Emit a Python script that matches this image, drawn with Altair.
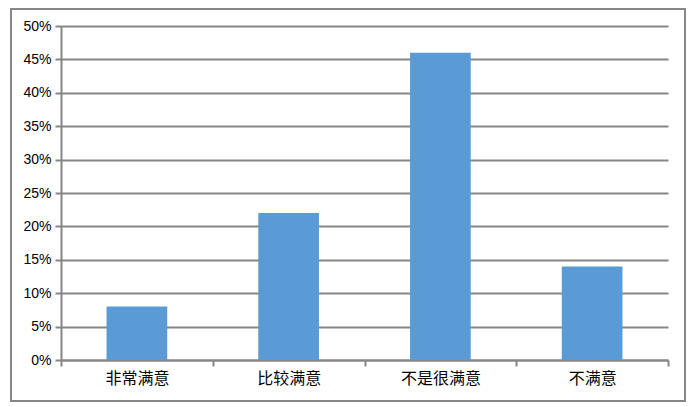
import altair as alt
import pandas as pd

categories = ["非常满意", "比较满意", "不是很满意", "不满意"]
values = [0.08, 0.22, 0.46, 0.14]
y_ticks = [0, 0.05, 0.10, 0.15, 0.20, 0.25, 0.30, 0.35, 0.40, 0.45, 0.50]

df = pd.DataFrame({"cat": categories, "val": values})

GRAY = "#868686"

bars = alt.Chart(df).mark_bar(color="#5B9BD5", width=alt.RelativeBandSize(0.4)).encode(
    x=alt.X("cat:N", sort=categories, title=None,
            scale=alt.Scale(paddingInner=0, paddingOuter=0),
            axis=alt.Axis(labelAngle=0, tickBand="extent", domainColor=GRAY, domainWidth=2,
                          tickColor=GRAY, tickWidth=2, tickSize=6,
                          labelFont="Noto Sans CJK SC", labelFontSize=16, labelColor="#000000",
                          labelPadding=4, grid=False)),
    y=alt.Y("val:Q", title=None,
            scale=alt.Scale(domain=[0, 0.5], nice=False),
            axis=alt.Axis(values=y_ticks, format=".0%", domainColor=GRAY, domainWidth=2,
                          tickColor=GRAY, tickWidth=2, tickSize=6,
                          gridColor=GRAY, gridWidth=2, grid=True,
                          labelFont="Liberation Sans", labelFontSize=14, labelColor="#000000",
                          labelPadding=4)),
)

border = alt.Chart(pd.DataFrame({"a": [0]})).mark_rect(
    filled=False, stroke=GRAY, strokeWidth=2
).encode(
    x=alt.value(-50), x2=alt.value(624), y=alt.value(-17), y2=alt.value(375)
)

chart = alt.layer(bars, border).properties(
    width=607, height=334,
    padding={"left": 53, "top": 18, "right": 19, "bottom": 43},
    autosize=alt.AutoSizeParams(type="none"),
).configure_view(strokeWidth=0).configure_axis(zindex=0)

chart.save("out.html", embed_options={"renderer": "svg", "actions": False})
